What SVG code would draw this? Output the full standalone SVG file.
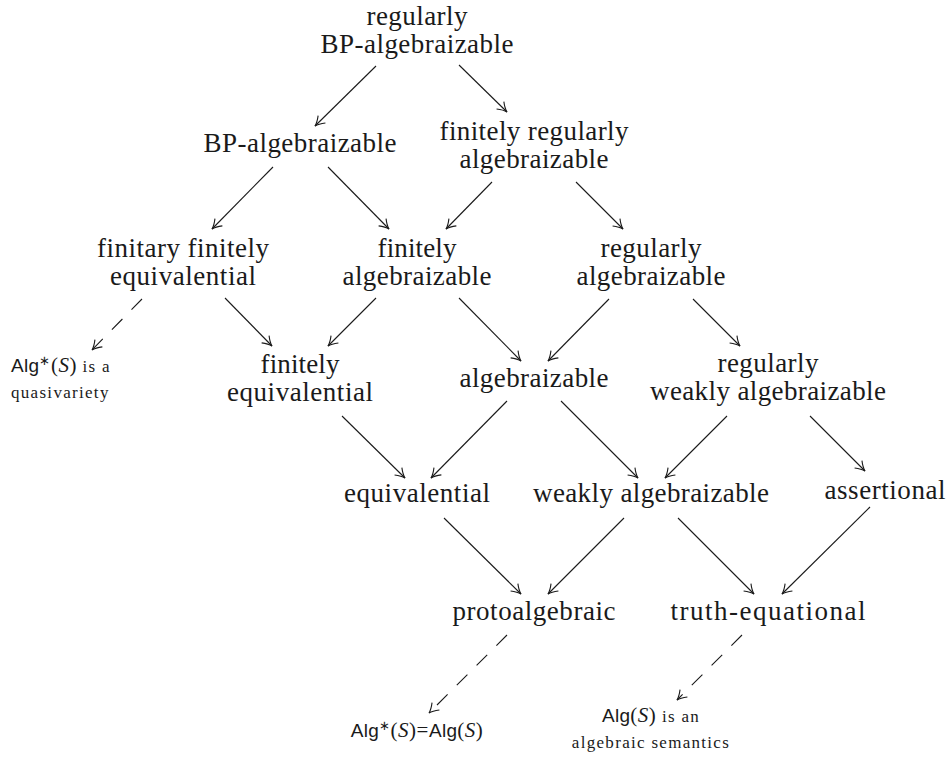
<svg xmlns="http://www.w3.org/2000/svg" width="949" height="760" viewBox="0 0 949 760">
<style>
.t{font-family:"Liberation Serif","Times New Roman",serif;font-size:27px;fill:#1a1a1a;text-anchor:middle}
.s{font-family:"Liberation Serif","Times New Roman",serif;font-size:17px;fill:#1a1a1a;letter-spacing:1.3px}
.sf{font-family:"Liberation Sans",Arial,sans-serif;font-size:19px;letter-spacing:0.3px}
.mi{font-style:italic;font-size:21px;letter-spacing:0.5px}
.mp{font-size:21px;letter-spacing:0.5px}
.st{font-size:13px;letter-spacing:0.5px}
.e{stroke:#1a1a1a;stroke-width:1.1;fill:none;marker-end:url(#arr)}
.d{stroke-dasharray:15 13}
</style>
<defs>
<marker id="arr" markerWidth="14" markerHeight="14" viewBox="-11 -7 13 14" refX="0" refY="0" orient="auto" markerUnits="userSpaceOnUse">
<path d="M-9.5,-5.2 C-6,-2.5 -2.5,-0.6 0,0 C-2.5,0.6 -6,2.5 -9.5,5.2" fill="none" stroke="#1a1a1a" stroke-width="1.1"/>
</marker>
</defs>
<g id="nodes">
<g id="n-regBP"><text class="t" x="417" y="25" textLength="101">regularly</text><text class="t" x="417" y="53" textLength="193">BP-algebraizable</text></g>
<g id="n-BP"><text class="t" x="300" y="152" textLength="193">BP-algebraizable</text></g>
<g id="n-FRA"><text class="t" x="534" y="140" textLength="189">finitely regularly</text><text class="t" x="534" y="168" textLength="149">algebraizable</text></g>
<g id="n-finitary"><text class="t" x="183" y="257" textLength="172">finitary finitely</text><text class="t" x="183" y="285" textLength="146">equivalential</text></g>
<g id="n-finalg"><text class="t" x="417" y="257" textLength="79">finitely</text><text class="t" x="417" y="285" textLength="149">algebraizable</text></g>
<g id="n-regalg"><text class="t" x="651" y="257" textLength="101">regularly</text><text class="t" x="651" y="285" textLength="149">algebraizable</text></g>
<g id="n-quasi"><text class="s" x="11" y="372"><tspan class="sf">Alg</tspan><tspan class="mp st" dy="-7">∗</tspan><tspan class="mp" dy="7">(</tspan><tspan class="mi">S</tspan><tspan class="mp">)</tspan> is a</text><text class="s" x="11" y="398">quasivariety</text></g>
<g id="n-fineq"><text class="t" x="300" y="373" textLength="79">finitely</text><text class="t" x="300" y="401" textLength="146">equivalential</text></g>
<g id="n-alg"><text class="t" x="534" y="387" textLength="149">algebraizable</text></g>
<g id="n-rwa"><text class="t" x="768" y="372" textLength="101">regularly</text><text class="t" x="768" y="400" textLength="236">weakly algebraizable</text></g>
<g id="n-equiv"><text class="t" x="417" y="502" textLength="146">equivalential</text></g>
<g id="n-wa"><text class="t" x="651" y="502" textLength="236">weakly algebraizable</text></g>
<g id="n-assert"><text class="t" x="885" y="499" textLength="121">assertional</text></g>
<g id="n-proto"><text class="t" x="534" y="620" textLength="163">protoalgebraic</text></g>
<g id="n-truth"><text class="t" x="768" y="620" textLength="195">truth-equational</text></g>
<g id="n-algeq"><text class="s" x="417" y="737" text-anchor="middle" style="letter-spacing:0"><tspan class="sf">Alg</tspan><tspan class="mp st" dy="-7">∗</tspan><tspan class="mp" dy="7">(</tspan><tspan class="mi">S</tspan><tspan class="mp">)=</tspan><tspan class="sf">Alg</tspan><tspan class="mp">(</tspan><tspan class="mi">S</tspan><tspan class="mp">)</tspan></text></g>
<g id="n-algsem"><text class="s" x="651" y="722" text-anchor="middle"><tspan class="sf">Alg</tspan><tspan class="mp">(</tspan><tspan class="mi">S</tspan><tspan class="mp">)</tspan> is an</text><text class="s" x="651" y="748" text-anchor="middle">algebraic semantics</text></g>
</g>
<g id="edges">
<line class="e" x1="376" y1="66" x2="315" y2="126"/>
<line class="e" x1="459" y1="65" x2="507" y2="112"/>
<line class="e" x1="273" y1="167" x2="212" y2="229"/>
<line class="e" x1="328" y1="167" x2="389" y2="229"/>
<line class="e" x1="492" y1="182" x2="446" y2="229"/>
<line class="e" x1="576" y1="182" x2="623" y2="229"/>
<line class="e d" x1="142" y1="299" x2="92" y2="350"/>
<line class="e" x1="225" y1="298" x2="272" y2="346"/>
<line class="e" x1="376" y1="298" x2="328" y2="346"/>
<line class="e" x1="459" y1="298" x2="521" y2="361"/>
<line class="e" x1="609" y1="299" x2="548" y2="361"/>
<line class="e" x1="693" y1="299" x2="740" y2="346"/>
<line class="e" x1="342" y1="416" x2="405" y2="478"/>
<line class="e" x1="507" y1="401" x2="431" y2="478"/>
<line class="e" x1="561" y1="401" x2="638" y2="478"/>
<line class="e" x1="727" y1="416" x2="665" y2="478"/>
<line class="e" x1="810" y1="416" x2="865" y2="471"/>
<line class="e" x1="444" y1="518" x2="521" y2="594"/>
<line class="e" x1="624" y1="518" x2="548" y2="594"/>
<line class="e" x1="678" y1="518" x2="754" y2="594"/>
<line class="e" x1="870" y1="507" x2="782" y2="594"/>
<line class="e d" x1="507" y1="635" x2="429" y2="713"/>
<line class="e d" x1="742" y1="635" x2="677" y2="700"/>
</g>
</svg>
